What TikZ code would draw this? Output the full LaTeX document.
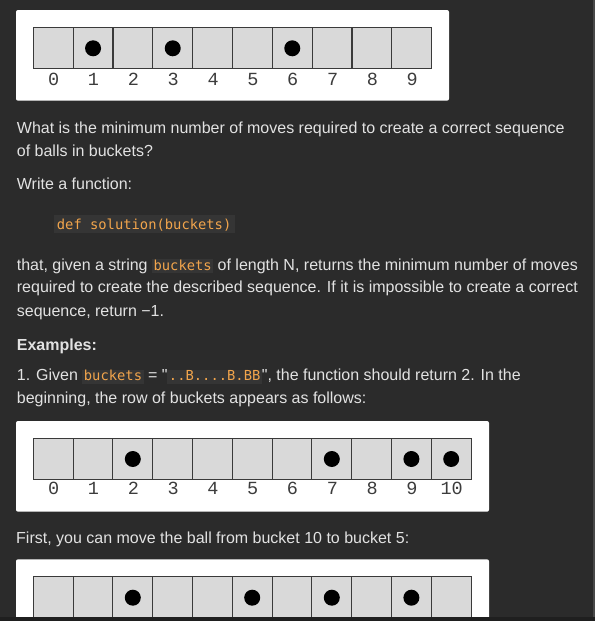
\documentclass[tikz,border=0pt]{standalone}
\usepackage{fontspec}
\setmainfont{Liberation Sans}[Ligatures=TeXOff]
\newfontfamily\codefont{DejaVu Sans Mono}[Ligatures=TeXOff]
\newfontfamily\digitfont{Liberation Mono}
\definecolor{bg}{HTML}{2B2B2B}
\definecolor{fg}{HTML}{E2E2E2}
\definecolor{codeor}{HTML}{F2A54C}
\definecolor{codebg}{HTML}{353535}
\definecolor{cellfill}{HTML}{D9D9D9}
\definecolor{cellline}{HTML}{3A3A3A}
\definecolor{labcol}{HTML}{3C3C3C}
\definecolor{botstrip}{HTML}{1F1F1F}
\definecolor{sidestrip}{HTML}{484848}
\newcommand\cd[1]{\setbox0\hbox{\codefont\fontsize{13.8}{16}\selectfont #1}%
\kern1.5pt\relax\rlap{\kern-1.5pt\relax\textcolor{codebg}{\rule[-3.3pt]{\dimexpr\wd0+3pt\relax}{14pt}}}\textcolor{codeor}{\box0}\kern1.5pt\relax}
\tikzset{
  txt/.style={inner sep=0pt, anchor=base west, text=fg, font=\fontsize{16}{18}\selectfont},
  codebox/.style={fill=codebg, inner xsep=3.4pt, inner ysep=0pt, text height=14pt, text depth=4pt,
    anchor=base west, text=codeor, font=\codefont\fontsize{13.8}{16}\selectfont},
  panel/.style={fill=white, rounded corners=2pt},
  cell/.style={fill=cellfill, draw=cellline, line width=1.1pt},
  ball/.style={fill=black},
  lab/.style={inner sep=0pt, anchor=base, text=labcol, font=\digitfont\fontsize{18.5}{20}\selectfont}
}
\begin{document}
\begin{tikzpicture}[x=1pt,y=-1pt]
\fill[bg] (0,0) rectangle (595,621);
\useasboundingbox (0,0) rectangle (595,621);
% ---------- panel 1
\fill[panel] (16,10) rectangle (449,100.7);
\foreach \i in {0,...,9} {
  \draw[cell] ({33.3+39.84*\i},27.3) rectangle ++(39.84,41.4);
  \node[lab] (p1l\i) at ({33.3+39.84*\i+20.4},85) {\i};
}
\foreach \i in {1,3,6} \fill[ball] ({33.3+39.84*\i+19.92},48.3) circle (8pt);
% ---------- text
\node[txt] (t1) at (16.7,133.3) {What is the minimum number of moves required to create a correct sequence};
\node[txt] (t2) at (16.7,156.7) {of balls in buckets?};
\node[txt] (t3) at (16.7,189) {Write a function:};
\node[codebox] (code) at (53.3,229) {def solution(buckets)};
\node[txt] (t4) at (16.7,270) {that, given a string \cd{buckets} of length N, returns the minimum number of moves};
\node[txt] (t5) at (16.7,292.7) {required to create the described sequence. If it is impossible to create a correct};
\node[txt] (t6) at (16.7,316) {sequence, return −1.};
\node[txt, font=\bfseries\fontsize{16}{18}\selectfont] (t7) at (16.7,350) {Examples:};
\node[txt] (t8) at (16.7,380.7) {1. Given \cd{buckets} = "\cd{..B....B.BB}", the function should return 2. In the};
\node[txt] (t9) at (16.7,403.3) {beginning, the row of buckets appears as follows:};
% ---------- panel 2
\fill[panel] (16,421) rectangle (489,511.7);
\foreach \i in {0,...,10} {
  \draw[cell] ({33.3+39.8*\i},438.3) rectangle ++(39.8,41.4);
  \node[lab] (p2l\i) at ({33.3+39.8*\i+20.4},494.5) {\i};
}
\foreach \i in {2,7,9,10} \fill[ball] ({33.3+39.8*\i+19.9},459) circle (8pt);
\node[txt] (t10) at (16,543.3) {First, you can move the ball from bucket 10 to bucket 5:};
% ---------- panel 3
\fill[panel] (16,559.3) rectangle (489,640);
\foreach \i in {0,...,10} \draw[cell] ({33.3+39.8*\i},576.7) rectangle ++(39.8,41.4);
\foreach \i in {2,5,7,9} \fill[ball] ({33.3+39.8*\i+19.9},597.7) circle (8pt);
% ---------- window edges
\fill[botstrip] (0,617) rectangle (595,621);
\fill[sidestrip] (593,0) rectangle (595,617);
\end{tikzpicture}
\end{document}
